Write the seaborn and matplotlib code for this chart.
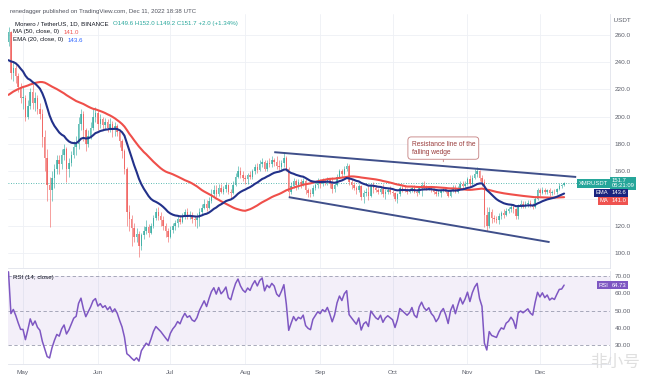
import numpy as np
import pandas as pd
import matplotlib
matplotlib.use("Agg")
import matplotlib.pyplot as plt
import matplotlib.dates as mdates
import seaborn as sns

sns.set_theme(style="white")
plt.rcParams["font.family"] = ["Liberation Sans", "DejaVu Sans", "Noto Sans CJK SC"]

# ---------------- data (XMR/USDT daily) ----------------
# closes before the visible window (only used to warm up MA50 / EMA20 / RSI14)
warmup_close = [172, 175, 182, 178, 176, 177, 175,
                178, 180, 185, 183, 186, 188, 187,
                190, 195, 198, 205, 208, 212, 218,
                225, 228, 226, 222, 225, 230, 235,
                232, 238, 226, 230, 232, 235, 237,
                222, 225, 232, 228, 235, 238, 236,
                240, 248, 255, 250, 252, 256, 255]

apr_c = [262, 232, 236, 230, 222, 214]
apr_h = [266, 263, 240, 238, 232, 225]
apr_l = [252, 228, 226, 225, 218, 210]

may_c = [214, 200, 208, 218, 210, 214, 206, 202, 185, 170, 150, 146, 155, 162, 168, 165,
         172, 176, 162, 166, 172, 178, 180, 195, 202, 190, 180, 186, 192, 200, 203]
may_h = [222, 216, 212, 221, 224, 218, 216, 210, 206, 190, 176, 156, 160, 165, 172, 172,
         176, 180, 178, 170, 175, 182, 186, 200, 206, 204, 192, 190, 196, 206, 207]
may_l = [206, 197, 198, 206, 206, 204, 202, 198, 178, 160, 138, 119, 138, 148, 158, 158,
         162, 168, 152, 156, 164, 170, 172, 176, 190, 182, 175, 178, 184, 190, 196]

jun_c = [195, 198, 194, 196, 192, 195, 190, 193, 189, 182, 175, 162, 130, 125, 118,
         112, 114, 105, 113, 116, 119, 115, 120, 126, 130, 127, 124, 120, 116, 112]
jun_h = [205, 202, 200, 199, 198, 199, 197, 196, 195, 191, 184, 176, 163, 135, 128,
         122, 118, 116, 115, 120, 124, 121, 122, 128, 133, 134, 130, 127, 122, 118]
jun_l = [190, 192, 190, 190, 189, 189, 185, 186, 186, 178, 170, 158, 120, 116, 105,
         108, 108, 97, 102, 110, 114, 112, 114, 118, 124, 124, 120, 117, 112, 108]

jul_c = [117, 120, 122, 125, 123, 127, 130, 127, 128, 125, 124, 126, 130, 133, 136, 133,
         138, 143, 146, 143, 148, 145, 147, 150, 145, 144, 150, 156, 160, 157, 155]
jul_h = [120, 122, 124, 127, 128, 129, 132, 133, 131, 130, 127, 129, 133, 136, 140, 139,
         141, 147, 150, 150, 151, 151, 149, 152, 151, 147, 153, 159, 164, 163, 160]
jul_l = [111, 115, 117, 119, 121, 122, 125, 125, 125, 122, 120, 118, 120, 128, 132, 131,
         132, 137, 141, 141, 142, 144, 143, 145, 143, 140, 143, 149, 155, 155, 153]

aug_c = [154, 157, 156, 160, 163, 161, 165, 167, 162, 166, 165, 168, 167, 164, 163, 166,
         170, 162, 145, 149, 153, 150, 152, 151, 153, 146, 144, 143, 148, 150, 152]
aug_h = [157, 159, 160, 162, 165, 166, 168, 170, 168, 168, 170, 171, 170, 171, 168, 168,
         174, 171, 163, 152, 155, 154, 154, 154, 155, 154, 148, 147, 150, 153, 155]
aug_l = [151, 151, 154, 154, 158, 159, 160, 163, 160, 160, 163, 163, 164, 162, 160, 161,
         163, 160, 141, 143, 148, 146, 147, 148, 149, 143, 141, 141, 142, 146, 148]

sep_c = [151, 153, 152, 154, 151, 147, 150, 156, 160, 158, 162, 164, 152, 150, 148,
         146, 149, 141, 144, 145, 142, 150, 148, 146, 145, 147, 143, 145, 146, 145]
sep_h = [154, 155, 154, 156, 155, 156, 152, 158, 162, 162, 164, 166, 165, 154, 152,
         149, 151, 150, 146, 148, 149, 151, 152, 150, 148, 149, 151, 147, 148, 149]
sep_l = [148, 149, 150, 150, 148, 144, 145, 149, 155, 156, 157, 160, 150, 147, 146,
         143, 145, 139, 137, 142, 139, 141, 144, 145, 143, 143, 141, 140, 143, 143]

oct_c = [144, 140, 143, 148, 147, 146, 145, 146, 148, 145, 144, 148, 150, 148, 147, 148,
         146, 145, 143, 144, 146, 147, 145, 142, 146, 148, 145, 148, 151, 149, 151]
oct_h = [146, 145, 144, 149, 150, 150, 148, 148, 149, 150, 147, 149, 152, 153, 150, 149,
         149, 148, 147, 146, 147, 148, 148, 146, 147, 150, 150, 149, 153, 153, 153]
oct_l = [142, 138, 137, 142, 145, 145, 143, 144, 145, 144, 142, 143, 142, 147, 146, 146,
         145, 143, 142, 142, 141, 145, 144, 141, 141, 145, 144, 144, 147, 148, 148]

nov_c = [154, 151, 155, 158, 160, 155, 152, 128, 120, 130, 126, 125, 124, 127, 129,
         128, 131, 132, 134, 132, 127, 135, 136, 135, 136, 137, 135, 134, 140, 146]
nov_h = [156, 157, 157, 162, 163, 161, 157, 154, 134, 134, 132, 128, 127, 129, 131,
         132, 133, 134, 136, 136, 133, 136, 139, 138, 138, 139, 139, 137, 142, 148]
nov_l = [150, 149, 150, 154, 156, 153, 149, 119, 116, 118, 122, 123, 122, 121, 125,
         126, 127, 129, 130, 129, 125, 125, 133, 133, 133, 134, 134, 132, 133, 139]

dec_c = [144, 146.5, 144.5, 146, 144, 145, 144.5, 147, 149.5, 149.7, 151.7]
dec_h = [148, 148.5, 147.5, 147, 147.5, 146.5, 147, 148, 151.5, 151, 152.0]
dec_l = [142, 143, 143.5, 143.5, 142, 142.5, 143, 143.5, 146.5, 148, 149.2]

# falling wedge trendlines (date, price) and annotation
wedge_upper_dates = ["2022-08-13", "2022-12-16"]
wedge_upper_prices = [174.0, 155.8]
wedge_lower_dates = ["2022-08-19", "2022-12-05"]
wedge_lower_prices = [141.0, 108.0]
note_text = "Resistance line of the\nfalling wedge"
note_date, note_price, note_anchor = "2022-10-22", 177.0, 167.0

price_ticks = [100, 120, 160, 180, 200, 220, 240, 260]
rsi_ticks = [30, 40, 50, 60, 70]

# ---------------- derived series ----------------
close = apr_c + may_c + jun_c + jul_c + aug_c + sep_c + oct_c + nov_c + dec_c
high = apr_h + may_h + jun_h + jul_h + aug_h + sep_h + oct_h + nov_h + dec_h
low = apr_l + may_l + jun_l + jul_l + aug_l + sep_l + oct_l + nov_l + dec_l

dates = pd.date_range("2022-04-25", periods=len(close), freq="D")
warm_dates = pd.date_range(end="2022-04-24", periods=len(warmup_close), freq="D")
all_close = pd.Series(warmup_close + close, index=warm_dates.append(dates), dtype=float)

df = pd.DataFrame({"close": close, "high": high, "low": low}, index=dates, dtype=float)
df["open"] = all_close.shift(1).loc[dates].values
ma50 = all_close.rolling(50).mean()
ema20 = all_close.ewm(span=20, adjust=False).mean()
delta = all_close.diff()
gain = delta.clip(lower=0).ewm(alpha=1 / 14, adjust=False).mean()
loss = (-delta.clip(upper=0)).ewm(alpha=1 / 14, adjust=False).mean()
rsi = 100 - 100 / (1 + gain / loss)

ind = pd.DataFrame({"date": all_close.index, "ma50": ma50.values,
                    "ema20": ema20.values, "rsi": rsi.values}).dropna()

# ---------------- figure ----------------
W, H = 649, 383
fig = plt.figure(figsize=(W / 100, H / 100), dpi=100)
fig.patch.set_facecolor("white")


def fx(px):
    return px / W


def fy(py):
    return 1 - py / H


ax = fig.add_axes([fx(8), fy(268), fx(610) - fx(8), fy(14) - fy(268)])
axr = fig.add_axes([fx(8), fy(364), fx(610) - fx(8), fy(271) - fy(364)], sharex=ax)

UP, DN = "#26a69a", "#ef5350"
MA_C, EMA_C, WEDGE_C = "#ef4f4a", "#22318a", "#3f4f8a"
GRID_C = "#eef0f5"
TXT_C = "#131722"
LAB_C = "#5d606b"

# candles
up = df["close"] >= df["open"]
colors = np.where(up, UP, DN)
ax.vlines(df.index, df["low"], df["high"], colors=colors, linewidth=0.6, alpha=0.65, zorder=2)
ax.bar(df.index, (df["close"] - df["open"]).abs().clip(lower=0.4),
       bottom=np.minimum(df["open"], df["close"]), width=0.62,
       color=colors, alpha=0.7, linewidth=0, zorder=2)

# moving averages
sns.lineplot(data=ind, x="date", y="ma50", ax=ax, color=MA_C, linewidth=1.5, zorder=4)
sns.lineplot(data=ind, x="date", y="ema20", ax=ax, color=EMA_C, linewidth=1.5, zorder=5)

# wedge lines
ax.plot(pd.to_datetime(wedge_upper_dates), wedge_upper_prices, color=WEDGE_C, lw=1.4, zorder=6,
        solid_capstyle="butt")
ax.plot(pd.to_datetime(wedge_lower_dates), wedge_lower_prices, color=WEDGE_C, lw=1.4, zorder=6,
        solid_capstyle="butt")

# last price dotted line
last = df["close"].iloc[-1]
ax.axhline(last, color=UP, lw=0.6, ls=(0, (1, 2)), zorder=1)

# annotation
ax.annotate(note_text, xy=(pd.Timestamp(note_date), note_anchor),
            xytext=(pd.Timestamp(note_date), note_price), textcoords="data",
            ha="center", va="center", ma="left", fontsize=4.8, color="#9a3d3d",
            bbox=dict(boxstyle="round,pad=0.55,rounding_size=0.5", fc="white", ec="#c47f7f", lw=0.6),
            arrowprops=dict(arrowstyle="-", color="#c47f7f", lw=0.6, shrinkA=0, shrinkB=0), zorder=8)

# axes limits / scale
x0 = pd.Timestamp("2022-04-24 19:00")
x1 = pd.Timestamp("2022-12-30")
ax.set_xlim(x0, x1)
ax.set_ylim(89, 275.4)
axr.set_ylim(19.1, 72.9)

for a in (ax, axr):
    a.set_facecolor("white")
    a.set_xlabel("")
    a.set_ylabel("")
    a.yaxis.tick_right()
    a.tick_params(axis="both", length=0, labelsize=4.6, labelcolor=LAB_C, pad=3.5)
    for s in ("top", "left"):
        a.spines[s].set_visible(False)
    for s in ("right", "bottom"):
        a.spines[s].set_color("#e0e3eb")
        a.spines[s].set_linewidth(0.6)
    a.xaxis.set_major_locator(mdates.MonthLocator())
    a.grid(False)
    for m in pd.date_range("2022-05-01", "2022-12-01", freq="MS"):
        a.axvline(m, color=GRID_C, lw=0.6, zorder=0)

for p in range(100, 261, 20):
    ax.axhline(p, color=GRID_C, lw=0.6, zorder=0)

ax.set_yticks(price_ticks)
ax.set_yticklabels([f"{t:.1f}" for t in price_ticks])
ax.tick_params(axis="x", labelbottom=False)
axr.xaxis.set_major_formatter(mdates.DateFormatter("%b"))
axr.tick_params(axis="x", pad=4)
plt.setp(axr.get_xticklabels(), ha="center")

# RSI pane
axr.axhspan(30, 70, color="#7e57c2", alpha=0.09, lw=0, zorder=0)
for lv in (70, 50, 30):
    axr.axhline(lv, color="#9a9cb0", lw=0.6, ls=(0, (4, 3)), zorder=1)
sns.lineplot(data=ind, x="date", y="rsi", ax=axr, color="#7e57c2", linewidth=1.1, zorder=3)
axr.set_xlabel("")
axr.set_ylabel("")
axr.set_yticks(rsi_ticks)
axr.set_yticklabels([f"{t:.2f}" for t in rsi_ticks])

# price-scale labels
ax.text(1.0, 1 - 6 / 254, "  USDT", transform=ax.transAxes, ha="left", va="center",
        fontsize=4.6, color=LAB_C)


def scale_tag(a, value, tag, txt, color, dy=0):
    kw = dict(xycoords=("axes fraction", "data"), textcoords="offset points",
              va="center", fontsize=4.2, color="white", annotation_clip=False, zorder=10)
    a.annotate(tag, xy=(1.0, value), xytext=(-1.2, dy), ha="right",
               bbox=dict(boxstyle="square,pad=0.3", fc=color, ec="none"), **kw)
    a.annotate(txt, xy=(1.0, value), xytext=(1.2, dy), ha="left", linespacing=1.0,
               bbox=dict(boxstyle="square,pad=0.3", fc=color, ec="none"), **kw)


scale_tag(ax, last, "XMRUSDT", f"{last:.1f}\n05:21:09", UP, dy=-0.5)
scale_tag(ax, ema20.iloc[-1], "EMA", f"{ema20.iloc[-1]:.1f}", "#1a237e", dy=0.5)
scale_tag(ax, ma50.iloc[-1], "MA", f"{ma50.iloc[-1]:.1f}", DN, dy=-2.6)
scale_tag(axr, rsi.iloc[-1], "RSI", f"{rsi.iloc[-1]:.2f}", "#7e57c2")

# header / legends
fs = 4.4
fig.text(fx(10), fy(11), "renedagger published on TradingView.com, Dec 11, 2022 18:38 UTC",
         fontsize=fs, color="#50535e", va="center")


def legend_line(px, py, label, value, vcolor):
    t = fig.text(fx(px), fy(py), label, fontsize=fs, color=TXT_C, va="center")
    ax.annotate(value, xy=(1, 0.5), xycoords=t, xytext=(3, 0), textcoords="offset points",
                va="center", fontsize=fs, color=vcolor, annotation_clip=False)


legend_line(15, 24, "Monero / TetherUS, 1D, BINANCE",
            "O149.6 H152.0 L149.2 C151.7 +2.0 (+1.34%)", UP)
legend_line(13, 32, "MA (50, close, 0)", f"{ma50.iloc[-1]:.1f}", DN)
legend_line(13, 40, "EMA (20, close, 0)", f"{ema20.iloc[-1]:.1f}", "#2962ff")
legend_line(13, 278, "RSI (14, close)", f"{rsi.iloc[-1]:.2f}", "#7e57c2")

# watermark
fig.text(fx(640), fy(362), "非小号", fontsize=12, color="#dcdcdc", ha="right", va="center",
         family=["Noto Sans CJK SC", "DejaVu Sans"], alpha=0.9)

fig.savefig("out.png", dpi=100, facecolor="white")
